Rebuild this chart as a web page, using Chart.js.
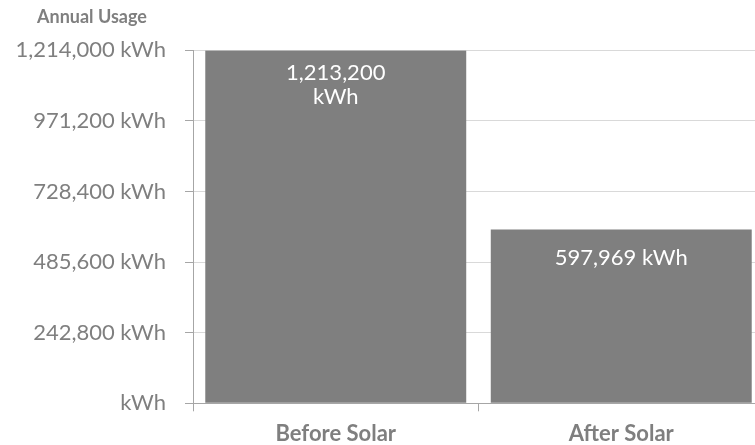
<!DOCTYPE html>
<html>
<head>
<meta charset="utf-8">
<script src="https://cdn.jsdelivr.net/npm/chart.js@4.4.0/dist/chart.umd.min.js"></script>
<style>
  html, body { margin: 0; padding: 0; overflow: hidden; background: #ffffff; }
  #wrap { position: relative; width: 764px; height: 445px; }
</style>
</head>
<body>
<div id="wrap"><canvas id="chart"></canvas></div>
<script>
// Annual energy usage before and after the solar installation
const categories = ['Before Solar', 'After Solar'];
const usageKWh = [1213200, 597969];
const wrapValueLabel = [true, false];
const yTickLabels = ['kWh', '242,800 kWh', '485,600 kWh', '728,400 kWh', '971,200 kWh', '1,214,000 kWh'];
const yMax = 1214000;
const yStep = 242800;
const heading = 'Annual Usage';

const FONT = 'Lato, "Open Sans", sans-serif';
const TEXT_GREY = '#7f7f7f';

// Small heading above the value axis labels
const axisHeading = {
  id: 'axisHeading',
  afterDraw(chart) {
    const ctx = chart.ctx;
    ctx.save();
    ctx.fillStyle = TEXT_GREY;
    ctx.font = 'bold 18px ' + FONT;
    ctx.textAlign = 'left';
    ctx.textBaseline = 'middle';
    ctx.fillText(heading, 37, 17);
    ctx.restore();
  }
};

// Value labels drawn inside the top end of each bar
const valueLabels = {
  id: 'valueLabels',
  afterDatasetsDraw(chart) {
    const ctx = chart.ctx;
    const meta = chart.getDatasetMeta(0);
    ctx.save();
    ctx.fillStyle = '#ffffff';
    ctx.font = '22px ' + FONT;
    ctx.textAlign = 'center';
    ctx.textBaseline = 'middle';
    meta.data.forEach((bar, i) => {
      const num = usageKWh[i].toLocaleString('en-US');
      const lines = wrapValueLabel[i] ? [num, 'kWh'] : [num + ' kWh'];
      const lineH = 24;
      const first = bar.y + (lines.length > 1 ? 22 : 28);
      lines.forEach((t, k) => ctx.fillText(t, bar.x, first + k * lineH));
    });
    ctx.restore();
  }
};

new Chart(document.getElementById('chart'), {
  type: 'bar',
  data: {
    labels: categories,
    datasets: [{
      data: usageKWh,
      backgroundColor: '#7f7f7f',
      borderWidth: 0,
      categoryPercentage: 1,
      barPercentage: 0.914
    }]
  },
  options: {
    responsive: true,
    maintainAspectRatio: false,
    animation: false,
    layout: { padding: { left: 0, right: 0, top: 50.3, bottom: 0 } },
    plugins: {
      legend: { display: false },
      tooltip: { enabled: false },
      title: { display: false }
    },
    scales: {
      x: {
        offset: true,
        grid: {
          display: true,
          drawOnChartArea: false,
          offset: true,
          tickLength: 8,
          tickColor: '#a6a6a6'
        },
        border: { color: '#a6a6a6', width: 1 },
        ticks: {
          color: TEXT_GREY,
          font: { family: FONT, size: 22, weight: 'bold' },
          padding: 9
        },
        afterFit(scale) { scale.height = 41.7; }
      },
      y: {
        min: 0,
        max: yMax,
        grid: {
          color: '#d9d9d9',
          tickLength: 8,
          tickColor: '#a6a6a6'
        },
        border: { color: '#a6a6a6', width: 1 },
        ticks: {
          stepSize: yStep,
          color: TEXT_GREY,
          font: { family: FONT, size: 22 },
          padding: 19,
          callback: (v, i) => yTickLabels[i]
        },
        afterFit(scale) { scale.width = 193; }
      }
    }
  },
  plugins: [valueLabels, axisHeading]
});
</script>
</body>
</html>
